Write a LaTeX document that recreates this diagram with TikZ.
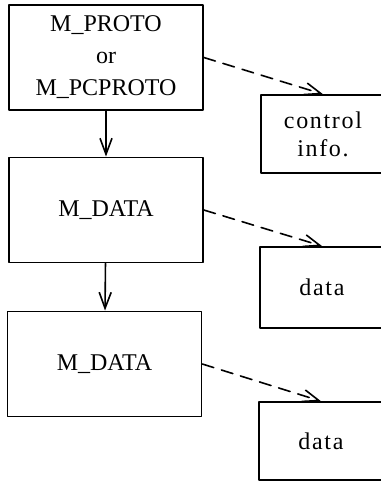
\documentclass[tikz,border=0pt]{standalone}
\usepackage{fontspec}
\setmainfont{Liberation Serif}
\usetikzlibrary{arrows.meta}

\begin{document}
\begin{tikzpicture}[line cap=round,line join=round,>={Straight Barb[length=12pt,width=9pt]},x=0.75pt,y=-0.75pt,
	blk/.style={draw,line width=1.2pt,inner sep=0pt,align=center,font=\fontsize{18}{24}\selectfont},
	msg/.style={blk,minimum width=145.5pt,minimum height=79pt},
	buf/.style={blk,minimum width=93pt,font=\fontsize{18}{21}\selectfont\addfontfeature{LetterSpace=7}},
	ptr/.style={->,line width=1.2pt,dash pattern=on 9pt off 6pt}]
		\useasboundingbox (0,0) rectangle (381,482);
		\clip (0,0) rectangle (381,482);
		\node[msg] (proto) at (106,57.5) {M\_PROTO\\or\\M\_PCPROTO};
		\node[msg] (data1) at (106,210) {M\_DATA};
		\node[msg] (data2) at (104.5,364) {M\_DATA};
		\node[buf,minimum height=58.5pt] (ctl) at (323,134) {control\\info.};
		\node[buf,minimum height=61pt] (buf1) at (322,287.5) {data};
		\node[buf,minimum height=58.5pt] (buf2) at (321,441) {data};
		\draw[->,line width=1.2pt] (proto) -- (data1);
		\draw[->,line width=1.2pt] (data1) -- (data2);
		\draw[ptr] (proto.east) -- (ctl.north);
		\draw[ptr] (data1.east) -- (buf1.north);
		\draw[ptr] (data2.east) -- (buf2.north);
		\end{tikzpicture}
\end{document}
